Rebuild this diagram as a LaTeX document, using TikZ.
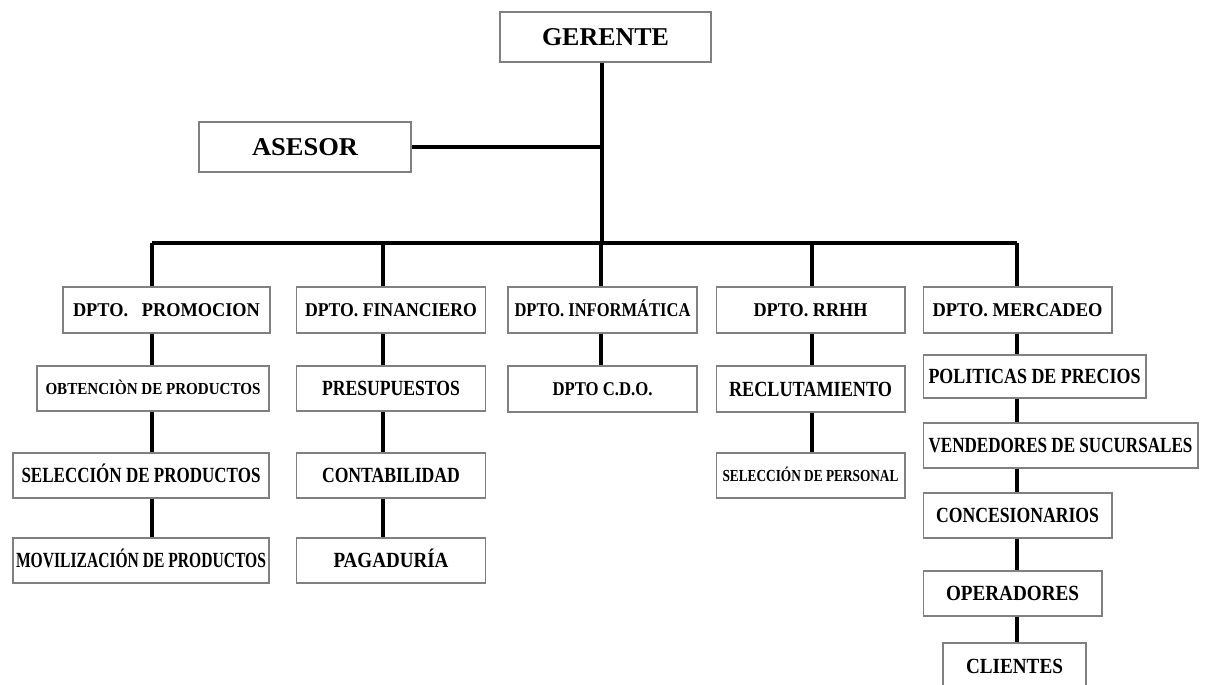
\documentclass[tikz,border=0pt]{standalone}
\usepackage{fontspec}
\setmainfont{Liberation Serif}
\usepackage{graphicx}
\newcommand{\lbl}[2]{\resizebox{#1}{\height}{#2}}
\tikzset{
  caja/.style={draw=black!50, line width=0.6pt, fill=white, inner sep=0pt, text depth=0pt},
  linea/.style={line width=1.9pt},
  fA/.style={font=\fontsize{14.6}{16}\selectfont\bfseries, text height=9.6pt},
  fB/.style={font=\fontsize{11.1}{13}\selectfont\bfseries, text height=7.3pt},
  fC/.style={font=\fontsize{12.3}{14}\selectfont\bfseries, text height=8.1pt},
  fD/.style={font=\fontsize{9.6}{11}\selectfont\bfseries, text height=6.3pt},
  dpto/.style={caja, fB, minimum width=3.78cm, minimum height=0.92cm},
  sub/.style={caja, fC, minimum width=3.78cm, minimum height=0.9cm}
}
\begin{document}
\begin{tikzpicture}[x=0.02cm,y=-0.02cm]
\useasboundingbox (0,0) rectangle (1207,684);
% gerente y asesor
\node[caja,fA,minimum width=4.22cm,minimum height=1cm] (ger) at (605.5,37) {\lbl{2.54cm}{GERENTE}\hspace{0.24cm}};
\node[caja,fA,minimum width=4.24cm,minimum height=1cm] (ase) at (305,147) {\lbl{2.12cm}{ASESOR}\hspace{0.38cm}};
\coordinate (tronco) at (602,243);
\coordinate (b1) at (152,243);
\coordinate (b2) at (383,243);
\coordinate (b3) at (601,243);
\coordinate (b4) at (812,243);
\coordinate (b5) at (1017,243);
\draw[linea] (ger.south -| tronco) -- (tronco);
\draw[linea] (ase.east) -- (ase.east -| tronco);
\draw[linea] (b1) -- (b5);
% departamentos
\node[dpto,minimum width=4.14cm] (pro) at (166.5,310) {\lbl{3.74cm}{DPTO.\enspace\ PROMOCION}};
\node[dpto] (fin) at (391,310) {\lbl{3.44cm}{DPTO. FINANCIERO}};
\node[dpto] (inf) at (602.5,310) {\lbl{3.52cm}{DPTO. INFORMÁTICA}};
\node[dpto] (rh) at (810.5,310) {\lbl{2.28cm}{DPTO. RRHH}\hspace{0.26cm}};
\node[dpto] (mer) at (1017.5,310) {\lbl{3.40cm}{DPTO. MERCADEO}};
% promocion
\node[sub,fD,minimum width=4.64cm] (obt) at (153,388.5) {\lbl{4.30cm}{OBTENCIÒN DE PRODUCTOS}};
\node[sub,minimum width=5.12cm] (sel) at (141,475.5) {\lbl{4.78cm}{SELECCIÓN DE PRODUCTOS}};
\node[sub,minimum width=5.12cm] (mov) at (141,560.5) {\lbl{5cm}{MOVILIZACIÓN DE PRODUCTOS}};
% financiero
\node[sub,fC] (pre) at (391,388.5) {\lbl{2.76cm}{PRESUPUESTOS}};
\node[sub] (con) at (391,475.5) {\lbl{2.76cm}{CONTABILIDAD}};
\node[sub] (pag) at (391,560.5) {\lbl{2.30cm}{PAGADURÍA}\hspace{0.14cm}};
% informatica
\node[sub,minimum height=0.92cm,fB] (cdo) at (602.5,389) {\lbl{2.0cm}{DPTO C.D.O.}};
% rrhh
\node[sub,minimum height=0.92cm] (rec) at (810.5,389) {\lbl{3.26cm}{RECLUTAMIENTO}};
\node[sub,fD] (spe) at (810.5,475.5) {\lbl{3.52cm}{SELECCIÓN DE PERSONAL}};
% mercadeo
\node[sub,minimum width=4.46cm,minimum height=0.86cm] (pol) at (1034.5,376.5) {\lbl{4.24cm}{POLITICAS DE PRECIOS}};
\node[sub,minimum width=5.5cm] (ven) at (1060.5,445.5) {\lbl{5.28cm}{VENDEDORES DE SUCURSALES}};
\node[sub] (cnc) at (1017.5,515.5) {\lbl{3.26cm}{CONCESIONARIOS}};
\node[sub,minimum width=3.58cm] (ope) at (1012.5,593.5) {\lbl{2.66cm}{OPERADORES}};
\node[sub,minimum width=2.86cm,minimum height=0.94cm] (cli) at (1014.5,666.5) {\lbl{1.94cm}{CLIENTES}};
% conectores
\draw[linea] (b1) -- (pro.north -| b1);
\draw[linea] (pro.south -| b1) -- (obt.north -| b1);
\draw[linea] (obt.south -| b1) -- (sel.north -| b1);
\draw[linea] (sel.south -| b1) -- (mov.north -| b1);
\draw[linea] (b2) -- (fin.north -| b2);
\draw[linea] (fin.south -| b2) -- (pre.north -| b2);
\draw[linea] (pre.south -| b2) -- (con.north -| b2);
\draw[linea] (con.south -| b2) -- (pag.north -| b2);
\draw[linea] (b3) -- (inf.north -| b3);
\draw[linea] (inf.south -| b3) -- (cdo.north -| b3);
\draw[linea] (b4) -- (rh.north -| b4);
\draw[linea] (rh.south -| b4) -- (rec.north -| b4);
\draw[linea] (rec.south -| b4) -- (spe.north -| b4);
\draw[linea] (b5) -- (mer.north -| b5);
\draw[linea] (mer.south -| b5) -- (pol.north -| b5);
\draw[linea] (pol.south -| b5) -- (ven.north -| b5);
\draw[linea] (ven.south -| b5) -- (cnc.north -| b5);
\draw[linea] (cnc.south -| b5) -- (ope.north -| b5);
\draw[linea] (ope.south -| b5) -- (cli.north -| b5);
\end{tikzpicture}
\end{document}
